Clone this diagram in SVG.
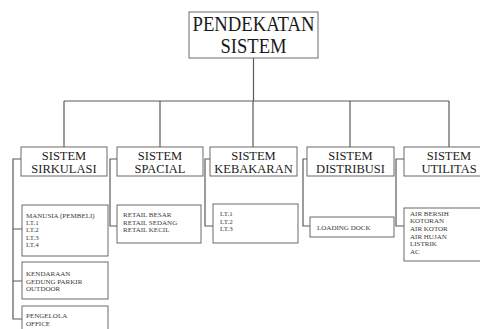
<svg xmlns="http://www.w3.org/2000/svg" width="480" height="329" viewBox="0 0 480 329">
<style>
.box{fill:#fff;stroke:#6a6a6a;stroke-width:1}
.ln{fill:none;stroke:#5a5a5a;stroke-width:1.2}
.t1{font-family:"Liberation Serif",serif;font-size:21px;fill:#1a1a1a;text-anchor:middle}
.t2{font-family:"Liberation Serif",serif;font-size:12.5px;fill:#222;text-anchor:middle}
.t3{font-family:"Liberation Serif",serif;font-size:7px;fill:#3a3a3a}
</style>
<rect width="480" height="329" fill="#fff"/>
<g id="connectors">
<path class="ln" d="M253.5 58V101M64 101H449M64 101V147M160 101V147M253 101V147M350 101V147M449 101V147"/>
<path class="ln" d="M21 159H13V319H22M13 229H22M13 281H22"/>
<path class="ln" d="M117 159H110V226H117"/>
<path class="ln" d="M210 159H205V226H213"/>
<path class="ln" d="M307 159H303V226H310"/>
<path class="ln" d="M404 159H396V226H404"/>
</g>
<g id="pendekatan">
<rect class="box" x="189" y="12" width="129" height="46"/>
<text class="t1" x="253.5" y="31" textLength="122" lengthAdjust="spacingAndGlyphs">PENDEKATAN</text>
<text class="t1" x="253.5" y="53" textLength="66" lengthAdjust="spacingAndGlyphs">SISTEM</text>
</g>
<g id="sirkulasi">
<rect class="box" x="21" y="147" width="86" height="29"/>
<text class="t2" x="64" y="160">SISTEM</text>
<text class="t2" x="64" y="172.5">SIRKULASI</text>
</g>
<g id="spacial">
<rect class="box" x="117" y="147" width="86" height="29"/>
<text class="t2" x="160" y="160">SISTEM</text>
<text class="t2" x="160" y="172.5">SPACIAL</text>
</g>
<g id="kebakaran">
<rect class="box" x="210" y="147" width="87" height="29"/>
<text class="t2" x="253.5" y="160">SISTEM</text>
<text class="t2" x="253.5" y="172.5">KEBAKARAN</text>
</g>
<g id="distribusi">
<rect class="box" x="307" y="147" width="87" height="29"/>
<text class="t2" x="350.5" y="160">SISTEM</text>
<text class="t2" x="350.5" y="172.5">DISTRIBUSI</text>
</g>
<g id="utilitas">
<rect class="box" x="404" y="147" width="90" height="29"/>
<text class="t2" x="449" y="160">SISTEM</text>
<text class="t2" x="449" y="172.5">UTILITAS</text>
</g>
<g id="manusia">
<rect class="box" x="22" y="205" width="86" height="51"/>
<text class="t3" x="26" y="218">MANUSIA (PEMBELI)</text>
<text class="t3" x="26" y="225.2">LT.1</text>
<text class="t3" x="26" y="232.4">LT.2</text>
<text class="t3" x="26" y="239.6">LT.3</text>
<text class="t3" x="26" y="246.8">LT.4</text>
</g>
<g id="kendaraan">
<rect class="box" x="22" y="262" width="86" height="37"/>
<text class="t3" x="26" y="276">KENDARAAN</text>
<text class="t3" x="26" y="283.6">GEDUNG PARKIR</text>
<text class="t3" x="26" y="291.2">OUTDOOR</text>
</g>
<g id="pengelola">
<rect class="box" x="22" y="306" width="86" height="40"/>
<text class="t3" x="26" y="318">PENGELOLA</text>
<text class="t3" x="26" y="326">OFFICE</text>
</g>
<g id="retail">
<rect class="box" x="117" y="205" width="84" height="38"/>
<text class="t3" x="123" y="217">RETAIL BESAR</text>
<text class="t3" x="123" y="224.6">RETAIL SEDANG</text>
<text class="t3" x="123" y="232.2">RETAIL KECIL</text>
</g>
<g id="lantai">
<rect class="box" x="213" y="204" width="85" height="39"/>
<text class="t3" x="220" y="216">LT.1</text>
<text class="t3" x="220" y="223.6">LT.2</text>
<text class="t3" x="220" y="231.2">LT.3</text>
</g>
<g id="loading">
<rect class="box" x="310" y="217" width="84" height="20"/>
<text class="t3" x="317" y="229.5">LOADING DOCK</text>
</g>
<g id="utilitas-list">
<rect class="box" x="404" y="208" width="90" height="53"/>
<text class="t3" x="410" y="215.5">AIR BERSIH</text>
<text class="t3" x="410" y="223.2">KOTORAN</text>
<text class="t3" x="410" y="230.9">AIR KOTOR</text>
<text class="t3" x="410" y="238.6">AIR HUJAN</text>
<text class="t3" x="410" y="246.3">LISTRIK</text>
<text class="t3" x="410" y="254">AC</text>
</g>
</svg>
